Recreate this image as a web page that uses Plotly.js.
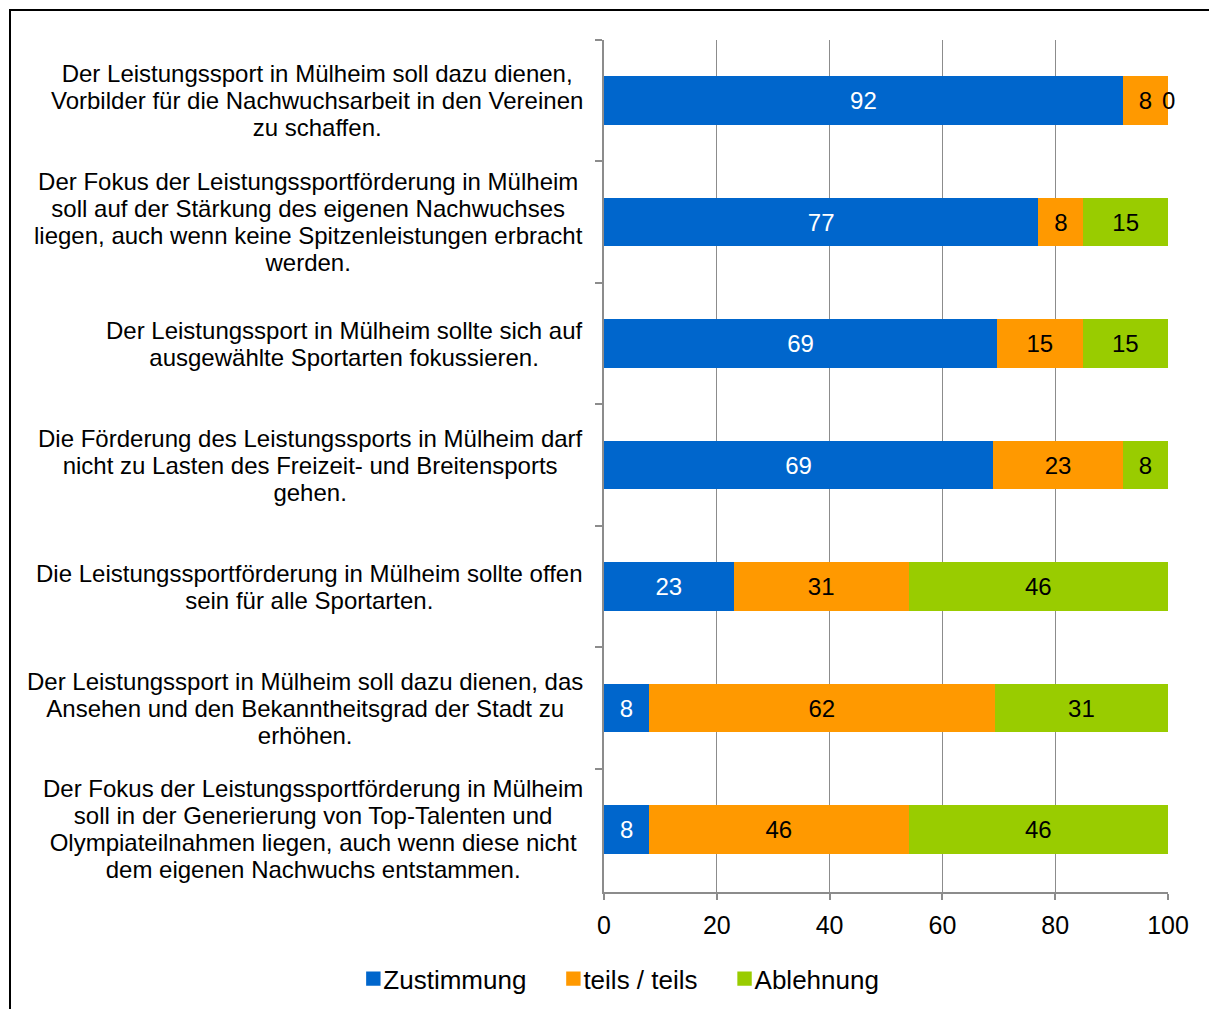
<!DOCTYPE html>
<html>
<head>
<meta charset="utf-8">
<script src="https://cdn.plot.ly/plotly-3.0.1.min.js"></script>
<style>
  html, body { margin: 0; padding: 0; background: #fff; overflow: hidden; }
  #chart { position: absolute; left: 0; top: 0; width: 1209px; height: 1009px; }
  #frame { position: absolute; left: 9px; top: 9px; width: 1400px; height: 1200px;
           border: 2px solid #000; pointer-events: none; }
</style>
</head>
<body>
<div id="chart"></div>
<div id="frame"></div>
<script>
const categories = [
  "Der Leistungssport in Mülheim soll dazu dienen,<br>Vorbilder für die Nachwuchsarbeit in den Vereinen<br>zu schaffen.",
  "Der Fokus der Leistungssportförderung in Mülheim<br>soll auf der Stärkung des eigenen Nachwuchses<br>liegen, auch wenn keine Spitzenleistungen erbracht<br>werden.",
  "Der Leistungssport in Mülheim sollte sich auf<br>ausgewählte Sportarten fokussieren.",
  "Die Förderung des Leistungssports in Mülheim darf<br>nicht zu Lasten des Freizeit- und Breitensports<br>gehen.",
  "Die Leistungssportförderung in Mülheim sollte offen<br>sein für alle Sportarten.",
  "Der Leistungssport in Mülheim soll dazu dienen, das<br>Ansehen und den Bekanntheitsgrad der Stadt zu<br>erhöhen.",
  "Der Fokus der Leistungssportförderung in Mülheim<br>soll in der Generierung von Top-Talenten und<br>Olympiateilnahmen liegen, auch wenn diese nicht<br>dem eigenen Nachwuchs entstammen."
];
const zustimmung = [92, 77, 69, 69, 23, 8, 8];
const teils = [8, 8, 15, 23, 31, 62, 46];
const ablehnung = [0, 15, 15, 8, 46, 31, 46];
const seriesNames = ["Zustimmung", "teils / teils", "Ablehnung"];
const xTicks = [0, 20, 40, 60, 80, 100];

const FONT = "Liberation Sans, Arial, sans-serif";

function barTrace(vals, name, color, textColor, positions) {
  return {
    type: 'bar', orientation: 'h', name: name,
    y: categories, x: vals,
    text: vals.map(String),
    texttemplate: '%{text}',
    textposition: positions || 'inside',
    insidetextanchor: 'middle',
    constraintext: 'none',
    cliponaxis: false,
    textfont: {family: FONT, size: 24, color: textColor},
    insidetextfont: {family: FONT, size: 24, color: textColor},
    outsidetextfont: {family: FONT, size: 24, color: '#000'},
    marker: {color: color, line: {width: 0}},
    hoverinfo: 'none'
  };
}

const traces = [
  barTrace(zustimmung, seriesNames[0], '#0066CC', '#fff'),
  barTrace(teils, seriesNames[1], '#FF9900', '#000'),
  barTrace(ablehnung, seriesNames[2], '#99CC00', '#000',
           ablehnung.map(v => v === 0 ? 'outside' : 'inside'))
];

const LABEL_SIZE = 24;
const annotations = categories.map(c => ({
  xref: 'paper', yref: 'y', x: 0, y: c, xanchor: 'right', yanchor: 'middle',
  xshift: -19, align: 'center', text: c, showarrow: false,
  font: {family: FONT, size: LABEL_SIZE, color: '#000'}
}));

const layout = {
  width: 1209, height: 1009,
  margin: {l: 604, r: 41, t: 40, b: 117},
  paper_bgcolor: '#fff', plot_bgcolor: '#fff',
  barmode: 'stack', barnorm: 'percent', bargap: 0.6,
  showlegend: true,
  legend: {
    orientation: 'h', xref: 'container', yref: 'container',
    x: 0.516, xanchor: 'center', y: 0.03, yanchor: 'middle',
    font: {family: FONT, size: 26, color: '#000'},
    traceorder: 'normal', itemwidth: 30, itemclick: false
  },
  xaxis: {
    range: [0, 100.0001], tickvals: xTicks, ticktext: xTicks.map(String),
    showgrid: true, gridcolor: '#8c8c8c', gridwidth: 1,
    showline: true, linecolor: '#8c8c8c', linewidth: 2,
    ticks: 'outside', ticklen: 6, tickcolor: '#8c8c8c', tickwidth: 2,
    ticklabelstandoff: 4,
    zeroline: false, fixedrange: true,
    tickfont: {family: FONT, size: 25, color: '#000'}
  },
  yaxis: {
    type: 'category', autorange: 'reversed',
    showticklabels: false, tickson: 'boundaries',
    ticks: 'outside', ticklen: 7, tickcolor: '#8c8c8c', tickwidth: 2,
    showline: true, linecolor: '#8c8c8c', linewidth: 2,
    showgrid: false, zeroline: false, fixedrange: true
  },
  annotations: annotations,
  font: {family: FONT, size: 24, color: '#000'}
};

Plotly.newPlot('chart', traces, layout, {displayModeBar: false, staticPlot: true}).then(gd => {
  // tighter line spacing for the category labels (Excel-like ~1.13em)
  const factor = 1.13 / 1.3;
  gd.querySelectorAll('.annotation-text').forEach(t => {
    const lines = t.querySelectorAll('tspan.line');
    if (lines.length < 2) return;
    lines.forEach(l => {
      const dy = l.getAttribute('dy');
      if (dy && dy.endsWith('em')) {
        l.setAttribute('dy', (parseFloat(dy) * factor) + 'em');
      }
    });
    const n = lines.length;
    const shift = (n - 1) * (1.3 - 1.13) / 2 * LABEL_SIZE;
    const prev = t.getAttribute('transform') || '';
    t.setAttribute('transform', prev + ' translate(0,' + shift + ')');
  });
  // legend: bigger square, text closer to square, a bit more room between items
  const groups = gd.querySelectorAll('.legend .traces');
  const nG = groups.length;
  groups.forEach((g, i) => {
    g.querySelectorAll('.legendpoints path').forEach(p => {
      const prev = p.getAttribute('transform') || '';
      p.setAttribute('transform', prev + ' scale(1.2)');
    });
    const txt = g.querySelector('.legendtext');
    if (txt) {
      const x = parseFloat(txt.getAttribute('x') || '40');
      txt.setAttribute('x', x - 10);
      txt.querySelectorAll('tspan.line').forEach(l => l.setAttribute('x', x - 10));
    }
    const extra = (i - (nG - 1) / 2) * 12;
    const prevT = g.getAttribute('transform') || '';
    g.setAttribute('transform', prevT + ' translate(' + extra + ',0)');
  });
  // the zero-width "0" label sits on the bar end as in the original
  const barTraces = gd.querySelectorAll('.barlayer .trace');
  if (barTraces[2]) {
    const pts = barTraces[2].querySelectorAll('.point');
    ablehnung.forEach((v, i) => {
      if (v === 0 && pts[i]) {
        const tx = pts[i].querySelector('text');
        if (tx) {
          const prev = tx.getAttribute('transform') || '';
          tx.setAttribute('transform', 'translate(-9,0) ' + prev);
        }
      }
    });
  }
});
</script>
</body>
</html>
